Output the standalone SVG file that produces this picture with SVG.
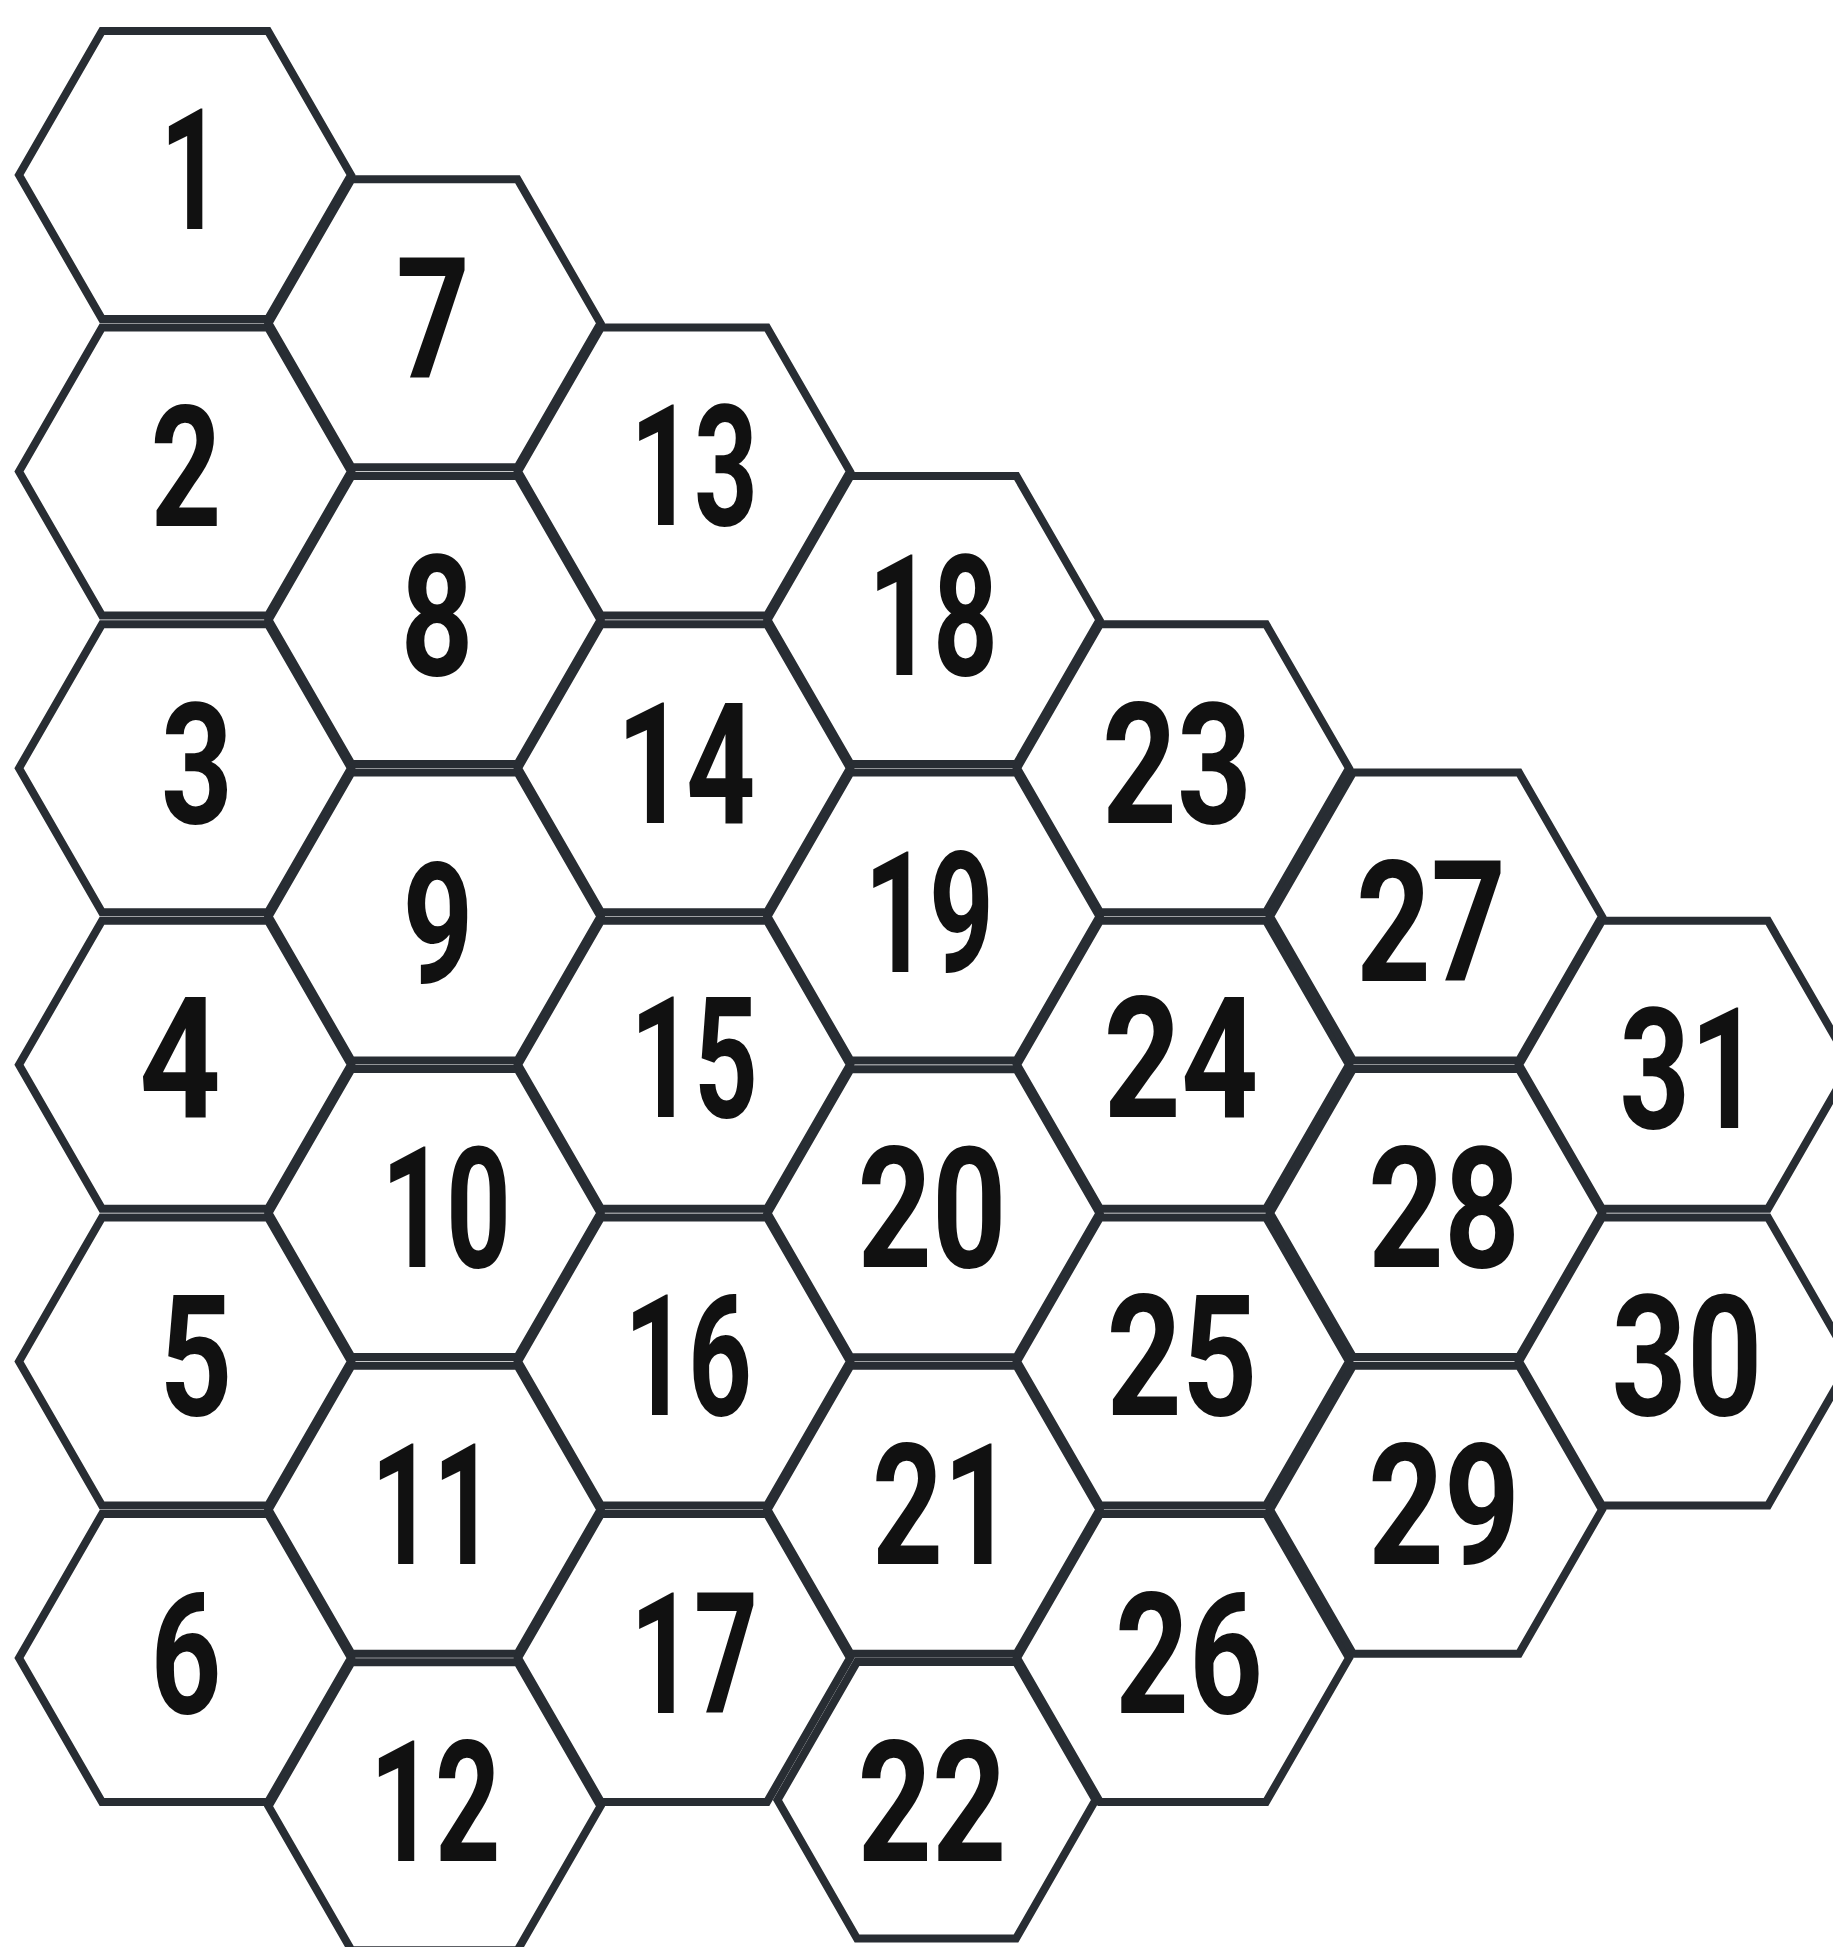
<svg xmlns="http://www.w3.org/2000/svg" xmlns:xlink="http://www.w3.org/1999/xlink" width="1833" height="1947" viewBox="0 0 1833 1947">
<style>
.hex{fill:none;stroke:#282d33;stroke-width:8;stroke-linejoin:miter}
.lbl{font-family:Roboto,"Liberation Sans",sans-serif;font-weight:700;font-size:169px;fill:#111;text-anchor:middle}
</style>
<defs>
<polygon id="hx" points="-166,0 -83,-144 83,-144 166,0 83,144 -83,144"/>
</defs>
<rect width="1833" height="1947" fill="#fff"/>
<g id="connectors"></g>
<g id="n1"><use href="#hx" class="hex" x="185" y="175"/><text class="lbl" x="191" y="229" textLength="62" lengthAdjust="spacingAndGlyphs">1</text></g>
<g id="n2"><use href="#hx" class="hex" x="185" y="471.6"/><text class="lbl" x="186" y="526" textLength="71" lengthAdjust="spacingAndGlyphs">2</text></g>
<g id="n3"><use href="#hx" class="hex" x="185" y="768.2"/><text class="lbl" x="197" y="823" textLength="72" lengthAdjust="spacingAndGlyphs">3</text></g>
<g id="n4"><use href="#hx" class="hex" x="185" y="1064.8"/><text class="lbl" x="180" y="1117" textLength="82" lengthAdjust="spacingAndGlyphs">4</text></g>
<g id="n5"><use href="#hx" class="hex" x="185" y="1361.4"/><text class="lbl" x="196" y="1415" textLength="73" lengthAdjust="spacingAndGlyphs">5</text></g>
<g id="n6"><use href="#hx" class="hex" x="185" y="1658"/><text class="lbl" x="186" y="1713" textLength="71" lengthAdjust="spacingAndGlyphs">6</text></g>
<g id="n7"><use href="#hx" class="hex" x="434.5" y="323.3"/><text class="lbl" x="433" y="378" textLength="74" lengthAdjust="spacingAndGlyphs">7</text></g>
<g id="n8"><use href="#hx" class="hex" x="434.5" y="619.9"/><text class="lbl" x="437" y="675" textLength="73" lengthAdjust="spacingAndGlyphs">8</text></g>
<g id="n9"><use href="#hx" class="hex" x="434.5" y="916.5"/><text class="lbl" x="438" y="983" textLength="71" lengthAdjust="spacingAndGlyphs">9</text></g>
<g id="n10"><use href="#hx" class="hex" x="434.5" y="1213.1"/><text class="lbl" x="446" y="1267" textLength="130" lengthAdjust="spacingAndGlyphs">10</text></g>
<g id="n11"><use href="#hx" class="hex" x="434.5" y="1509.7"/><text class="lbl" x="433" y="1564" textLength="124" lengthAdjust="spacingAndGlyphs">11</text></g>
<g id="n12"><use href="#hx" class="hex" x="434.5" y="1806.3"/><text class="lbl" x="435" y="1861" textLength="131" lengthAdjust="spacingAndGlyphs">12</text></g>
<g id="n13"><use href="#hx" class="hex" x="684" y="471.6"/><text class="lbl" x="694" y="525" textLength="128" lengthAdjust="spacingAndGlyphs">13</text></g>
<g id="n14"><use href="#hx" class="hex" x="684" y="768.2"/><text class="lbl" x="686" y="823" textLength="139" lengthAdjust="spacingAndGlyphs">14</text></g>
<g id="n15"><use href="#hx" class="hex" x="684" y="1064.8"/><text class="lbl" x="694" y="1117" textLength="128" lengthAdjust="spacingAndGlyphs">15</text></g>
<g id="n16"><use href="#hx" class="hex" x="684" y="1361.4"/><text class="lbl" x="688" y="1415" textLength="128" lengthAdjust="spacingAndGlyphs">16</text></g>
<g id="n17"><use href="#hx" class="hex" x="684" y="1658"/><text class="lbl" x="694" y="1713" textLength="128" lengthAdjust="spacingAndGlyphs">17</text></g>
<g id="n18"><use href="#hx" class="hex" x="933.5" y="620"/><text class="lbl" x="933" y="675" textLength="130" lengthAdjust="spacingAndGlyphs">18</text></g>
<g id="n19"><use href="#hx" class="hex" x="933.5" y="916.6"/><text class="lbl" x="929" y="972" textLength="130" lengthAdjust="spacingAndGlyphs">19</text></g>
<g id="n20"><use href="#hx" class="hex" x="933.5" y="1213.2"/><text class="lbl" x="932" y="1267" textLength="149" lengthAdjust="spacingAndGlyphs">20</text></g>
<g id="n21"><use href="#hx" class="hex" x="933.5" y="1509.8"/><text class="lbl" x="943" y="1564" textLength="142" lengthAdjust="spacingAndGlyphs">21</text></g>
<g id="n22"><polygon class="hex" points="777.5,1800 857,1662 1016,1662 1095.5,1800 1016,1938.5 857,1938.5"/><text class="lbl" x="932" y="1861" textLength="149" lengthAdjust="spacingAndGlyphs">22</text></g>
<g id="n23"><use href="#hx" class="hex" x="1183" y="768.2"/><text class="lbl" x="1177" y="823" textLength="150" lengthAdjust="spacingAndGlyphs">23</text></g>
<g id="n24"><use href="#hx" class="hex" x="1183" y="1064.8"/><text class="lbl" x="1181" y="1117" textLength="155" lengthAdjust="spacingAndGlyphs">24</text></g>
<g id="n25"><use href="#hx" class="hex" x="1183" y="1361.4"/><text class="lbl" x="1182" y="1415" textLength="151" lengthAdjust="spacingAndGlyphs">25</text></g>
<g id="n26"><use href="#hx" class="hex" x="1183" y="1658"/><text class="lbl" x="1189" y="1713" textLength="148" lengthAdjust="spacingAndGlyphs">26</text></g>
<g id="n27"><use href="#hx" class="hex" x="1436" y="916.5"/><text class="lbl" x="1431" y="981" textLength="150" lengthAdjust="spacingAndGlyphs">27</text></g>
<g id="n28"><use href="#hx" class="hex" x="1436" y="1213.1"/><text class="lbl" x="1444" y="1267" textLength="152" lengthAdjust="spacingAndGlyphs">28</text></g>
<g id="n29"><use href="#hx" class="hex" x="1436" y="1509.7"/><text class="lbl" x="1444" y="1564" textLength="152" lengthAdjust="spacingAndGlyphs">29</text></g>
<g id="n30"><use href="#hx" class="hex" x="1685" y="1361.4"/><text class="lbl" x="1687" y="1415" textLength="151" lengthAdjust="spacingAndGlyphs">30</text></g>
<g id="n31"><use href="#hx" class="hex" x="1685" y="1064.8"/><text class="lbl" x="1690" y="1128" textLength="141" lengthAdjust="spacingAndGlyphs">31</text></g>
</svg>
